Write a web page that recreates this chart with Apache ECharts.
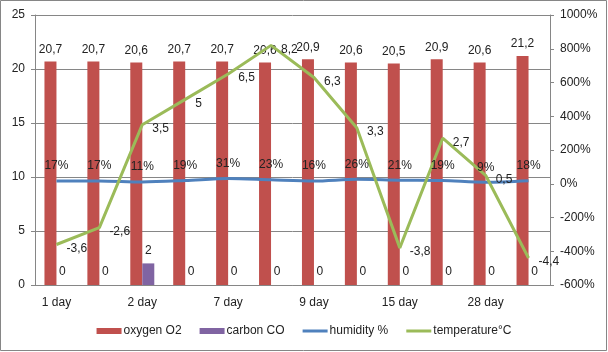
<!DOCTYPE html>
<html>
<head>
<meta charset="utf-8">
<style>
  html, body { margin: 0; padding: 0; background: #fff; }
  #chart { width: 608px; height: 352px; }
</style>
</head>
<body>
<div id="chart"></div>
<script src="https://cdn.jsdelivr.net/npm/echarts@6/dist/echarts.min.js"></script>
<script>
// data
var days = ['1 day', '', '2 day', '', '7 day', '', '9 day', '', '15 day', '', '28 day', ''];
var oxygen = [20.7, 20.7, 20.6, 20.7, 20.7, 20.6, 20.9, 20.6, 20.5, 20.9, 20.6, 21.2];
var carbon = [0, 0, 2, 0, 0, 0, 0, 0, 0, 0, 0, 0];
var humidity = [0.17, 0.17, 0.11, 0.19, 0.31, 0.23, 0.16, 0.26, 0.21, 0.19, 0.09, 0.18];
var temperature = [-3.6, -2.6, 3.5, 5, 6.5, 8.2, 6.3, 3.3, -3.8, 2.7, 0.5, -4.4];

var font = 'Liberation Sans';
var gray = '#868686';
var lineIcon = 'path://M0,0L25,0L25,3L0,3Z';

function comma(v) {
  return String(v).replace('.', ',');
}

var myChart = echarts.init(document.getElementById('chart'));
var option = {
  animation: false,
  textStyle: { fontFamily: font, fontSize: 12, color: '#222' },
  graphic: [{
    type: 'rect',
    shape: { x: 0.5, y: 0.5, width: 606, height: 350 },
    style: { fill: 'none', stroke: gray, lineWidth: 1 },
    silent: true
  }],
  grid: { left: 35, right: 58, top: 15, bottom: 67 },
  legend: {
    bottom: 10,
    left: 'center',
    itemWidth: 25,
    itemHeight: 6,
    itemGap: 18,
    symbolKeepAspect: true,
    textStyle: { fontFamily: font, fontSize: 12, color: '#222', padding: [0, 0, 0, -3] },
    data: [
      { name: 'oxygen O2', icon: 'rect' },
      { name: 'carbon CO', icon: 'rect' },
      { name: 'humidity %', icon: lineIcon },
      { name: 'temperature°C', icon: lineIcon }
    ]
  },
  xAxis: {
    type: 'category',
    data: days,
    axisLine: { lineStyle: { color: gray } },
    axisTick: { interval: 0, length: 4, lineStyle: { color: gray } },
    axisLabel: { interval: 0, margin: 12, color: '#222', fontFamily: font, fontSize: 12 }
  },
  yAxis: [{
    type: 'value',
    min: 0, max: 25, interval: 5,
    axisLine: { show: true, lineStyle: { color: gray } },
    axisTick: { show: true, length: 4, lineStyle: { color: gray } },
    axisLabel: { margin: 10, color: '#222', fontFamily: font, fontSize: 12 },
    splitLine: { lineStyle: { color: gray } }
  }, {
    type: 'value',
    min: -6, max: 10, interval: 2,
    axisLine: { show: true, lineStyle: { color: gray } },
    axisTick: { show: true, length: 4, lineStyle: { color: gray } },
    axisLabel: {
      margin: 10, color: '#222', fontFamily: font, fontSize: 12,
      formatter: function (v) { return Math.round(v * 100) + '%'; }
    },
    splitLine: { show: false }
  }],
  series: [{
    name: 'oxygen O2',
    type: 'bar',
    data: oxygen,
    barWidth: 12,
    barGap: '0%',
    itemStyle: { color: '#C0504D' },
    label: { show: true, position: 'top', distance: 6, color: '#222', fontFamily: font, fontSize: 12, formatter: function (p) { return comma(p.value); } }
  }, {
    name: 'carbon CO',
    type: 'bar',
    data: carbon,
    barWidth: 12,
    itemStyle: { color: '#8064A2' },
    label: { show: true, position: 'top', distance: 7, color: '#222', fontFamily: font, fontSize: 12, formatter: function (p) { return comma(p.value); } }
  }, {
    name: 'humidity %',
    type: 'line',
    yAxisIndex: 1,
    data: humidity,
    smooth: 0.3,
    symbol: 'circle',
    symbolSize: 0,
    showSymbol: true,
    lineStyle: { color: '#4F81BD', width: 3 },
    itemStyle: { color: '#4F81BD' },
    label: { show: true, position: 'top', distance: 9, color: '#222', fontFamily: font, fontSize: 12, formatter: function (p) { return Math.round(p.value * 100) + '%'; } }
  }, {
    name: 'temperature°C',
    type: 'line',
    yAxisIndex: 1,
    data: temperature,
    symbol: 'circle',
    symbolSize: 0,
    showSymbol: true,
    lineStyle: { color: '#9BBB59', width: 3 },
    itemStyle: { color: '#9BBB59' },
    label: { show: true, position: 'right', distance: 10, offset: [0, 4], color: '#222', fontFamily: font, fontSize: 12, formatter: function (p) { return comma(p.value); } }
  }]
};
myChart.setOption(option);
</script>
</body>
</html>
